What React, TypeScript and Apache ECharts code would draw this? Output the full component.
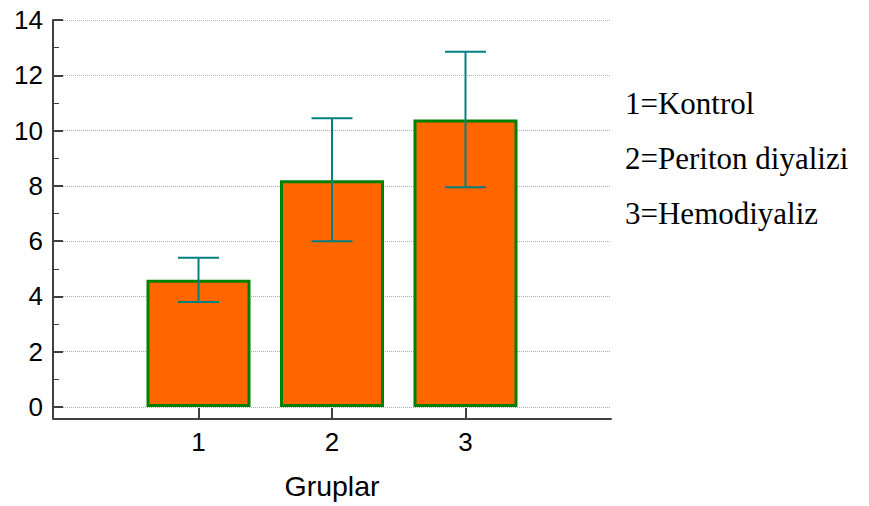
import React, { useEffect, useRef } from "react";
import * as echarts from "echarts";

const groups = [1, 2, 3];
const groupNames = ["1=Kontrol", "2=Periton diyalizi", "3=Hemodiyaliz"];
const means = [4.6, 8.2, 10.4];
const lowErr = [3.8, 6.0, 7.95];
const highErr = [5.4, 10.45, 12.85];
const yTicks = [0, 2, 4, 6, 8, 10, 12, 14];

export default function App() {
  const ref = useRef<HTMLDivElement>(null);
  useEffect(() => {
    if (!ref.current) return;
    const chart = echarts.init(ref.current, null, { renderer: "svg" });
    const axisColor = "#404040";
    chart.setOption({
      animation: false,
      backgroundColor: "#ffffff",
      grid: { left: 53, right: 258, top: 20, bottom: 99 },
      xAxis: {
        type: "value",
        min: -0.09,
        max: 4.09,
        offset: 12,
        name: "Gruplar",
        nameLocation: "middle",
        nameGap: 52,
        nameTextStyle: { fontFamily: "Liberation Sans, Arial", fontSize: 28.5, color: "#000" },
        axisLine: { show: true, onZero: false, lineStyle: { color: axisColor, width: 2 } },
        axisTick: { show: true, inside: true, length: 11, customValues: groups, lineStyle: { color: axisColor, width: 2 } },
        axisLabel: { customValues: groups, margin: 10, fontFamily: "Liberation Sans, Arial", fontSize: 26, color: "#000" },
        splitLine: { show: false },
      },
      yAxis: {
        type: "value",
        min: 0,
        max: 14,
        interval: 2,
        axisLine: { show: true, onZero: false, lineStyle: { color: axisColor, width: 2 } },
        axisTick: { show: true, inside: true, length: 10, lineStyle: { color: axisColor, width: 2 } },
        minorTick: { show: true, splitNumber: 2, length: 6, lineStyle: { color: axisColor, width: 1 } },
        axisLabel: {
          margin: 10,
          fontFamily: "Liberation Sans, Arial",
          fontSize: 26,
          color: "#000",
          formatter: (v: number) => (yTicks.includes(v) ? String(v) : ""),
        },
        splitLine: { show: true, lineStyle: { color: "#aaaaaa", type: [1, 1], width: 1 } },
      },
      series: [
        {
          type: "bar",
          barWidth: 104,
          data: groups.map((g, i) => [g, means[i]]),
          itemStyle: { color: "#FF6600", borderColor: "#008000", borderWidth: 3 },
          z: 2,
        },
        {
          type: "custom",
          z: 3,
          data: groups.map((g, i) => [g, lowErr[i], highErr[i]]),
          renderItem: (params: any, api: any) => {
            const x = api.value(0);
            const lo = api.coord([x, api.value(1)]);
            const hi = api.coord([x, api.value(2)]);
            const hw = 20.5;
            const style = { stroke: "#008080", lineWidth: 2 };
            return {
              type: "group",
              children: [
                { type: "line", shape: { x1: lo[0], y1: lo[1], x2: hi[0], y2: hi[1] }, style },
                { type: "line", shape: { x1: lo[0] - hw, y1: lo[1], x2: lo[0] + hw, y2: lo[1] }, style },
                { type: "line", shape: { x1: hi[0] - hw, y1: hi[1], x2: hi[0] + hw, y2: hi[1] }, style },
              ],
            };
          },
        },
      ],
      graphic: [
        {
          type: "line",
          shape: { x1: 53, y1: 406, x2: 53, y2: 419 },
          style: { stroke: axisColor, lineWidth: 2 },
        },
        ...groupNames.map((t, i) => ({
          type: "text",
          left: 625,
          top: 88 + i * 55,
          style: { text: t, font: "31px 'Liberation Serif', 'Times New Roman', serif", fill: "#000" },
        })),
      ],
    });
    return () => chart.dispose();
  }, []);
  return <div ref={ref} style={{ width: 869, height: 506, position: "absolute", left: 0, top: 0 }} />;
}
